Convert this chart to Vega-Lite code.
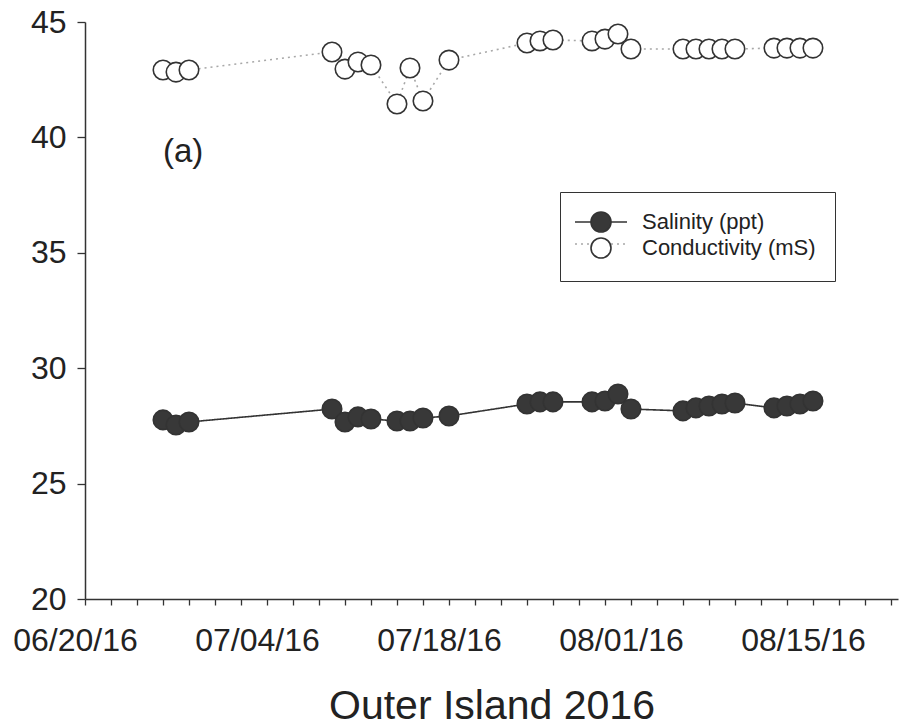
{
  "$schema": "https://vega.github.io/schema/vega-lite/v6.json",
  "width": 813,
  "height": 577,
  "autosize": {"type": "none"},
  "padding": {"left": 85, "top": 22, "right": 3, "bottom": 127},
  "background": "white",
  "config": {
    "view": {"stroke": null},
    "font": "Liberation Sans",
    "axis": {"grid": false, "domainColor": "#333333", "domainWidth": 1.5, "tickColor": "#333333", "tickWidth": 1.3, "labelColor": "#222222", "labelFont": "Liberation Sans", "titleFont": "Liberation Sans", "titleFontWeight": "normal", "titleColor": "#222222", "labelOverlap": false},
    "axisX": {"labelOverlap": false, "labelFlush": false},
    "legend": {"labelFont": "Liberation Sans", "labelColor": "#222222", "labelLimit": 400}
  },
  "datasets": {
    "obs": [
      {"date": "2016-06-26T00:00:00", "series": "Salinity (ppt)", "value": 27.76},
      {"date": "2016-06-27T00:00:00", "series": "Salinity (ppt)", "value": 27.54},
      {"date": "2016-06-28T00:00:00", "series": "Salinity (ppt)", "value": 27.67},
      {"date": "2016-07-09T00:00:00", "series": "Salinity (ppt)", "value": 28.23},
      {"date": "2016-07-10T00:00:00", "series": "Salinity (ppt)", "value": 27.67},
      {"date": "2016-07-11T00:00:00", "series": "Salinity (ppt)", "value": 27.89},
      {"date": "2016-07-12T00:00:00", "series": "Salinity (ppt)", "value": 27.80},
      {"date": "2016-07-14T00:00:00", "series": "Salinity (ppt)", "value": 27.71},
      {"date": "2016-07-15T00:00:00", "series": "Salinity (ppt)", "value": 27.71},
      {"date": "2016-07-16T00:00:00", "series": "Salinity (ppt)", "value": 27.84},
      {"date": "2016-07-18T00:00:00", "series": "Salinity (ppt)", "value": 27.93},
      {"date": "2016-07-24T00:00:00", "series": "Salinity (ppt)", "value": 28.45},
      {"date": "2016-07-25T00:00:00", "series": "Salinity (ppt)", "value": 28.54},
      {"date": "2016-07-26T00:00:00", "series": "Salinity (ppt)", "value": 28.54},
      {"date": "2016-07-29T00:00:00", "series": "Salinity (ppt)", "value": 28.54},
      {"date": "2016-07-30T00:00:00", "series": "Salinity (ppt)", "value": 28.58},
      {"date": "2016-07-31T00:00:00", "series": "Salinity (ppt)", "value": 28.88},
      {"date": "2016-08-01T00:00:00", "series": "Salinity (ppt)", "value": 28.23},
      {"date": "2016-08-05T00:00:00", "series": "Salinity (ppt)", "value": 28.15},
      {"date": "2016-08-06T00:00:00", "series": "Salinity (ppt)", "value": 28.28},
      {"date": "2016-08-07T00:00:00", "series": "Salinity (ppt)", "value": 28.36},
      {"date": "2016-08-08T00:00:00", "series": "Salinity (ppt)", "value": 28.45},
      {"date": "2016-08-09T00:00:00", "series": "Salinity (ppt)", "value": 28.49},
      {"date": "2016-08-12T00:00:00", "series": "Salinity (ppt)", "value": 28.28},
      {"date": "2016-08-13T00:00:00", "series": "Salinity (ppt)", "value": 28.36},
      {"date": "2016-08-14T00:00:00", "series": "Salinity (ppt)", "value": 28.45},
      {"date": "2016-08-15T00:00:00", "series": "Salinity (ppt)", "value": 28.58},
      {"date": "2016-06-26T00:00:00", "series": "Conductivity (mS)", "value": 42.92},
      {"date": "2016-06-27T00:00:00", "series": "Conductivity (mS)", "value": 42.83},
      {"date": "2016-06-28T00:00:00", "series": "Conductivity (mS)", "value": 42.92},
      {"date": "2016-07-09T00:00:00", "series": "Conductivity (mS)", "value": 43.70},
      {"date": "2016-07-10T00:00:00", "series": "Conductivity (mS)", "value": 42.96},
      {"date": "2016-07-11T00:00:00", "series": "Conductivity (mS)", "value": 43.27},
      {"date": "2016-07-12T00:00:00", "series": "Conductivity (mS)", "value": 43.14},
      {"date": "2016-07-14T00:00:00", "series": "Conductivity (mS)", "value": 41.45},
      {"date": "2016-07-15T00:00:00", "series": "Conductivity (mS)", "value": 43.01},
      {"date": "2016-07-16T00:00:00", "series": "Conductivity (mS)", "value": 41.58},
      {"date": "2016-07-18T00:00:00", "series": "Conductivity (mS)", "value": 43.35},
      {"date": "2016-07-24T00:00:00", "series": "Conductivity (mS)", "value": 44.09},
      {"date": "2016-07-25T00:00:00", "series": "Conductivity (mS)", "value": 44.18},
      {"date": "2016-07-26T00:00:00", "series": "Conductivity (mS)", "value": 44.22},
      {"date": "2016-07-29T00:00:00", "series": "Conductivity (mS)", "value": 44.18},
      {"date": "2016-07-30T00:00:00", "series": "Conductivity (mS)", "value": 44.26},
      {"date": "2016-07-31T00:00:00", "series": "Conductivity (mS)", "value": 44.48},
      {"date": "2016-08-01T00:00:00", "series": "Conductivity (mS)", "value": 43.83},
      {"date": "2016-08-05T00:00:00", "series": "Conductivity (mS)", "value": 43.83},
      {"date": "2016-08-06T00:00:00", "series": "Conductivity (mS)", "value": 43.83},
      {"date": "2016-08-07T00:00:00", "series": "Conductivity (mS)", "value": 43.83},
      {"date": "2016-08-08T00:00:00", "series": "Conductivity (mS)", "value": 43.83},
      {"date": "2016-08-09T00:00:00", "series": "Conductivity (mS)", "value": 43.83},
      {"date": "2016-08-12T00:00:00", "series": "Conductivity (mS)", "value": 43.87},
      {"date": "2016-08-13T00:00:00", "series": "Conductivity (mS)", "value": 43.87},
      {"date": "2016-08-14T00:00:00", "series": "Conductivity (mS)", "value": 43.87},
      {"date": "2016-08-15T00:00:00", "series": "Conductivity (mS)", "value": 43.87}
    ],
    "notes": [
      {"date": "2016-06-26T00:00:00", "value": 38.95, "label": "(a)"}
    ]
  },
  "layer": [
    {
      "data": {"name": "obs"},
      "mark": {"type": "line", "strokeWidth": 1.6},
      "encoding": {
        "x": {
          "field": "date", "type": "temporal",
          "scale": {"domain": [{"year": 2016, "month": 6, "date": 20}, {"year": 2016, "month": 8, "date": 21, "hours": 13}]},
          "axis": {
            "title": "Outer Island 2016",
            "titleFontSize": 41,
            "titlePadding": 30,
            "tickCount": 40,
            "values": [
              {"year": 2016, "month": 6, "date": 20}, {"year": 2016, "month": 6, "date": 22}, {"year": 2016, "month": 6, "date": 24}, {"year": 2016, "month": 6, "date": 26}, {"year": 2016, "month": 6, "date": 28}, {"year": 2016, "month": 6, "date": 30},
              {"year": 2016, "month": 7, "date": 2}, {"year": 2016, "month": 7, "date": 4}, {"year": 2016, "month": 7, "date": 6}, {"year": 2016, "month": 7, "date": 8}, {"year": 2016, "month": 7, "date": 10}, {"year": 2016, "month": 7, "date": 12}, {"year": 2016, "month": 7, "date": 14}, {"year": 2016, "month": 7, "date": 16}, {"year": 2016, "month": 7, "date": 18}, {"year": 2016, "month": 7, "date": 20}, {"year": 2016, "month": 7, "date": 22}, {"year": 2016, "month": 7, "date": 24}, {"year": 2016, "month": 7, "date": 26}, {"year": 2016, "month": 7, "date": 28}, {"year": 2016, "month": 7, "date": 30},
              {"year": 2016, "month": 8, "date": 1}, {"year": 2016, "month": 8, "date": 3}, {"year": 2016, "month": 8, "date": 5}, {"year": 2016, "month": 8, "date": 7}, {"year": 2016, "month": 8, "date": 9}, {"year": 2016, "month": 8, "date": 11}, {"year": 2016, "month": 8, "date": 13}, {"year": 2016, "month": 8, "date": 15}, {"year": 2016, "month": 8, "date": 17}, {"year": 2016, "month": 8, "date": 19}, {"year": 2016, "month": 8, "date": 21}
            ],
            "labelExpr": "indexof(['06/20/16','07/04/16','07/18/16','08/01/16','08/15/16'], timeFormat(datum.value, '%m/%d/%y')) >= 0 ? timeFormat(datum.value, '%m/%d/%y') : ''",
            "labelFontSize": 32,
            "labelOverlap": false,
            "labelFlush": false,
            "labelOffset": -10,
            "tickSize": 6,
            "labelPadding": 20
          }
        },
        "y": {
          "field": "value", "type": "quantitative",
          "scale": {"domain": [20, 45], "nice": false, "zero": false},
          "axis": {"title": null, "values": [20, 25, 30, 35, 40, 45], "labelFontSize": 32, "tickSize": 8, "labelPadding": 11}
        },
        "color": {
          "field": "series", "type": "nominal",
          "scale": {"domain": ["Salinity (ppt)", "Conductivity (mS)"], "range": ["#333333", "#a8a8a8"]},
          "legend": {"title": null, "orient": "none", "legendX": 475, "legendY": 170, "padding": 19, "symbolOffset": 11, "symbolType": "M-2.6,0H-1M1,0H2.6", "symbolSize": 400, "symbolStrokeWidth": 1.6, "labelFontSize": 22, "labelOffset": 30, "labelExpr": "''", "rowPadding": -2}
        },
        "strokeDash": {
          "field": "series", "type": "nominal",
          "scale": {"domain": ["Salinity (ppt)", "Conductivity (mS)"], "range": [[1, 0], [2, 4]]},
          "legend": {"title": null, "orient": "none", "legendX": 475, "legendY": 170, "padding": 19, "symbolOffset": 11, "symbolType": "M-2.6,0H-1M1,0H2.6", "symbolSize": 400, "symbolStrokeWidth": 1.6, "labelFontSize": 22, "labelOffset": 30, "labelExpr": "''", "rowPadding": -2}
        }
      }
    },
    {
      "data": {"name": "obs"},
      "mark": {"type": "point", "shape": "circle", "size": 380, "filled": true, "stroke": "#333333", "strokeWidth": 1.6, "opacity": 1},
      "encoding": {
        "x": {"field": "date", "type": "temporal"},
        "y": {"field": "value", "type": "quantitative", "title": null},
        "fill": {
          "field": "series", "type": "nominal", "sort": "descending",
          "scale": {"range": ["#383838", "#ffffff"]},
          "legend": {"title": null, "orient": "none", "legendX": 475, "legendY": 170, "padding": 19, "symbolOffset": 11, "symbolType": "circle", "symbolSize": 400, "symbolStrokeWidth": 1.6, "symbolStrokeColor": "#333333", "labelFontSize": 22, "labelOffset": 30, "rowPadding": -2, "strokeColor": "#333333"}
        }
      }
    },
    {
      "data": {"name": "notes"},
      "mark": {"type": "text", "align": "left", "baseline": "alphabetic", "fontSize": 33, "color": "#222222", "font": "Liberation Sans"},
      "encoding": {
        "x": {"field": "date", "type": "temporal"},
        "y": {"field": "value", "type": "quantitative", "title": null},
        "text": {"field": "label"}
      }
    },
    {
      "mark": {"type": "rule", "color": "#333333", "strokeWidth": 1.5},
      "encoding": {"y": {"datum": 45}}
    }
  ]
}
